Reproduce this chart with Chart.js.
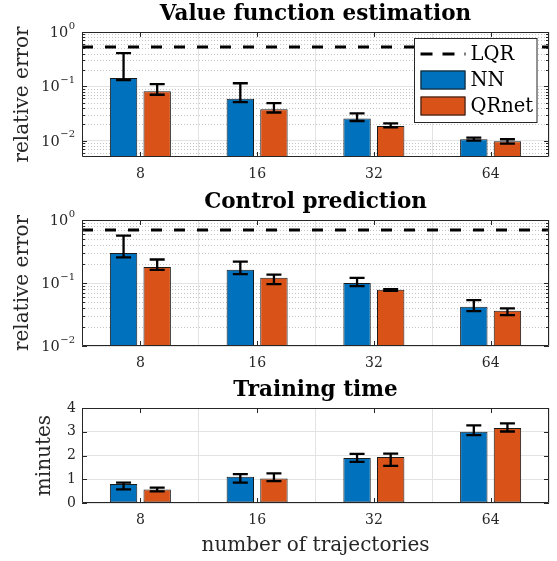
<!DOCTYPE html>
<html>
<head>
<meta charset="utf-8">
<script src="https://cdn.jsdelivr.net/npm/chart.js@4.4.0/dist/chart.umd.min.js"></script>
<style>
  html, body { margin: 0; padding: 0; background: #fff; }
  #wrap { position: relative; width: 557px; height: 561px; }
  canvas { position: absolute; left: 0; }
</style>
</head>
<body>
<div id="wrap">
  <canvas id="valueChart" width="557" height="185" style="top:0px"></canvas>
  <canvas id="controlChart" width="557" height="190" style="top:185px"></canvas>
  <canvas id="timeChart" width="557" height="186" style="top:375px"></canvas>
</div>
<script>
// number of trajectories
const categories = ['8', '16', '32', '64'];

// Value function estimation (relative error)
const nnValue   = [0.143, 0.059, 0.0257, 0.0106];
const nnValueLo = [0.130, 0.051, 0.0230, 0.0100];
const nnValueHi = [0.410, 0.114, 0.0317, 0.0114];
const qrValue   = [0.0815, 0.038, 0.0186, 0.0097];
const qrValueLo = [0.070, 0.033, 0.0176, 0.0088];
const qrValueHi = [0.110, 0.049, 0.0208, 0.0106];
const lqrValue  = 0.53;

// Control prediction (relative error)
const nnCtrl   = [0.300, 0.162, 0.100, 0.0420];
const nnCtrlLo = [0.256, 0.138, 0.089, 0.0358];
const nnCtrlHi = [0.565, 0.219, 0.121, 0.0535];
const qrCtrl   = [0.180, 0.121, 0.078, 0.0363];
const qrCtrlLo = [0.162, 0.096, 0.075, 0.0310];
const qrCtrlHi = [0.236, 0.136, 0.080, 0.0395];
const lqrCtrl  = 0.695;

// Training time (minutes)
const nnTime   = [0.80, 1.11, 1.89, 3.00];
const nnTimeLo = [0.57, 0.86, 1.73, 2.86];
const nnTimeHi = [0.86, 1.22, 2.07, 3.27];
const qrTime   = [0.57, 1.03, 1.94, 3.16];
const qrTimeLo = [0.49, 0.92, 1.56, 3.01];
const qrTimeHi = [0.65, 1.25, 2.08, 3.35];

const BLUE = '#0072BD';
const ORANGE = '#D95319';
const EDGE = '#1a1a1a';
const AXIS = '#262626';
const GRID = '#e3e3e3';
const FONT = "'DejaVu Serif', serif";

Chart.defaults.font.family = FONT;
Chart.defaults.color = AXIS;

function isPow10(v) {
  const e = Math.log10(v);
  return Math.abs(e - Math.round(e)) < 1e-6;
}
// 2..9 x 10^k inside the axis range (for the dotted minor grid)
function logMinors(min, max) {
  const out = [];
  for (let k = Math.floor(Math.log10(min)); k <= Math.ceil(Math.log10(max)); k++) {
    for (let m = 2; m <= 9; m++) {
      const v = m * Math.pow(10, k);
      if (v > min * 1.0001 && v < max * 0.9999) out.push(v);
    }
  }
  return out;
}
// bars sit at x = 1..4 on a linear axis running 0.5 .. 4.5
const toXY = vals => vals.map((v, i) => ({x: i + 1, y: v}));

function decorations(p) {
  return {
    id: 'matlabLook',
    beforeDatasetsDraw(chart) {
      if (!p.log) return;
      const {ctx, chartArea: a, scales: {y}} = chart;
      ctx.save();
      ctx.strokeStyle = '#c4c4c4';
      ctx.lineWidth = 1;
      ctx.setLineDash([1, 2]);
      ctx.beginPath();
      logMinors(y.min, y.max).forEach(v => {
        const py = Math.round(y.getPixelForValue(v)) + 0.5;
        ctx.moveTo(a.left, py);
        ctx.lineTo(a.right, py);
      });
      ctx.stroke();
      ctx.restore();
    },
    afterDatasetsDraw(chart) {
      const {ctx, chartArea: a, scales: {x, y}} = chart;
      // error bars
      ctx.save();
      ctx.strokeStyle = '#000';
      ctx.lineWidth = 2.3;
      chart.data.datasets.forEach((ds, di) => {
        if (!ds.errLo) return;
        chart.getDatasetMeta(di).data.forEach((bar, i) => {
          const lo = y.getPixelForValue(ds.errLo[i]);
          const hi = y.getPixelForValue(ds.errHi[i]);
          ctx.beginPath();
          ctx.moveTo(bar.x, lo); ctx.lineTo(bar.x, hi);
          ctx.moveTo(bar.x - 7.5, lo); ctx.lineTo(bar.x + 7.5, lo);
          ctx.moveTo(bar.x - 7.5, hi); ctx.lineTo(bar.x + 7.5, hi);
          ctx.stroke();
        });
      });
      ctx.restore();

      // box and inward ticks
      ctx.save();
      ctx.strokeStyle = AXIS;
      ctx.lineWidth = 1;
      ctx.beginPath();
      const yTick = (v, len) => {
        const py = Math.round(y.getPixelForValue(v)) + 0.5;
        ctx.moveTo(a.left, py); ctx.lineTo(a.left + len, py);
        ctx.moveTo(a.right, py); ctx.lineTo(a.right - len, py);
      };
      if (p.log) {
        y.ticks.filter(t => isPow10(t.value)).forEach(t => yTick(t.value, 5));
        logMinors(y.min, y.max).forEach(v => yTick(v, 3));
      } else {
        y.ticks.forEach(t => yTick(t.value, 5));
      }
      x.ticks.forEach(t => {
        const px = Math.round(x.getPixelForValue(t.value)) + 0.5;
        ctx.moveTo(px, a.bottom); ctx.lineTo(px, a.bottom - 5);
        ctx.moveTo(px, a.top); ctx.lineTo(px, a.top + 5);
      });
      ctx.rect(a.left + 0.5, a.top + 0.5, a.width - 1, a.height - 1);
      ctx.stroke();
      ctx.restore();
    },
    afterDraw(chart) {
      const {ctx, chartArea: a, scales: {y}} = chart;
      // log tick labels as 10 with a raised exponent
      if (p.log) {
        ctx.save();
        ctx.fillStyle = AXIS;
        ctx.textAlign = 'right';
        ctx.textBaseline = 'alphabetic';
        y.ticks.filter(t => isPow10(t.value)).forEach(t => {
          const py = y.getPixelForValue(t.value);
          const exp = String(Math.round(Math.log10(t.value))).replace('-', '\u2212');
          const xr = a.left - 7;
          ctx.font = '10px ' + FONT;
          const ew = ctx.measureText(exp).width;
          ctx.fillText(exp, xr, py - 3.5);
          ctx.font = '14.5px ' + FONT;
          ctx.fillText('10', xr - ew - 0.5, py + 5);
        });
        ctx.restore();
      }
      if (!p.legend) return;
      const bx = a.right - 134.5, by = a.top + 6.5, bw = 122.5, bh = 84;
      ctx.save();
      ctx.fillStyle = '#fff';
      ctx.fillRect(bx, by, bw, bh);
      ctx.strokeStyle = AXIS;
      ctx.lineWidth = 1;
      ctx.strokeRect(bx, by, bw, bh);
      const sx = bx + 6, sw = 45, tx = bx + 56;
      const rows = [by + 15.5, by + 41.5, by + 67.5];
      // LQR dashed
      ctx.strokeStyle = '#000';
      ctx.lineWidth = 3;
      ctx.setLineDash([12, 10]);
      ctx.beginPath();
      ctx.moveTo(sx, rows[0]); ctx.lineTo(sx + sw, rows[0]);
      ctx.stroke();
      ctx.setLineDash([]);
      // NN / QRnet patches
      [[BLUE, rows[1]], [ORANGE, rows[2]]].forEach(([c, ry]) => {
        ctx.fillStyle = c;
        ctx.fillRect(sx, ry - 9.5, sw, 19);
        ctx.strokeStyle = EDGE;
        ctx.lineWidth = 1;
        ctx.strokeRect(sx + 0.5, ry - 9, sw - 1, 18);
      });
      ctx.fillStyle = '#000';
      ctx.font = '19.5px ' + FONT;
      ctx.textBaseline = 'middle';
      ctx.textAlign = 'left';
      ctx.fillText('LQR', tx, rows[0] + 1);
      ctx.fillText('NN', tx, rows[1] + 1);
      ctx.fillText('QRnet', tx, rows[2] + 1);
      ctx.restore();
    }
  };
}

function makeChart(id, p) {
  const barOpts = {borderColor: EDGE, borderWidth: 1, borderSkipped: false,
                   categoryPercentage: 0.576, barPercentage: 0.815};
  const datasets = [
    Object.assign({label: 'NN', data: toXY(p.nn), errLo: p.nnLo, errHi: p.nnHi, backgroundColor: BLUE}, barOpts),
    Object.assign({label: 'QRnet', data: toXY(p.qr), errLo: p.qrLo, errHi: p.qrHi, backgroundColor: ORANGE}, barOpts)
  ];
  if (p.lqr !== undefined) {
    datasets.push({
      type: 'line', label: 'LQR',
      data: [{x: 0.5, y: p.lqr}, {x: categories.length + 0.5, y: p.lqr}],
      borderColor: '#000', borderWidth: 3, borderDash: [11, 12],
      pointRadius: 0, fill: false
    });
  }
  const scales = {
    x: {
      type: 'linear', min: 0.5, max: categories.length + 0.5, offset: false,
      afterBuildTicks: s => { s.ticks = categories.map((c, i) => ({value: i + 1})); },
      grid: {color: GRID, drawTicks: false},
      border: {display: false},
      ticks: {padding: 9, font: {size: 14}, maxRotation: 0, autoSkip: false,
              callback: v => categories[Math.round(v) - 1]},
      title: p.xTitle ? {display: true, text: p.xTitle, font: {size: 20}, padding: {top: 0, bottom: 3}} : {display: false},
      afterFit: s => { s.height = p.xHeight; }
    },
    y: {
      min: p.yMin, max: p.yMax,
      grid: {drawTicks: false, color: ctx => (!p.log || isPow10(ctx.tick.value)) ? GRID : 'rgba(0,0,0,0)'},
      border: {display: false},
      ticks: {padding: 6, font: {size: 14}, autoSkip: false},
      title: {display: true, text: p.yTitle, font: {size: 20}, padding: {top: p.yTitlePad, bottom: 0}},
      afterFit: s => { s.width = 82; }
    }
  };
  if (p.log) {
    scales.y.type = 'logarithmic';
    scales.y.ticks.callback = () => '';   // drawn with superscripts in afterDraw
  } else {
    scales.y.type = 'linear';
    scales.y.ticks.stepSize = 1;
  }
  return new Chart(document.getElementById(id), {
    type: 'bar',
    data: {datasets: datasets},
    options: {
      responsive: false,
      animation: false,
      devicePixelRatio: 1,
      layout: {padding: {left: 0, right: 8, top: 0, bottom: 0}},
      plugins: {
        legend: {display: false},
        tooltip: {enabled: false},
        title: {
          display: true, text: p.title, fullSize: false, color: '#000',
          font: {size: 21.5, weight: 'bold'},
          padding: {top: p.titlePad[0], bottom: p.titlePad[1]}
        }
      },
      scales: scales
    },
    plugins: [decorations(p)]
  });
}

makeChart('valueChart', {
  title: 'Value function estimation', titlePad: [1.5, 4.7],
  nn: nnValue, nnLo: nnValueLo, nnHi: nnValueHi,
  qr: qrValue, qrLo: qrValueLo, qrHi: qrValueHi,
  lqr: lqrValue, log: true, yMin: 0.005, yMax: 1,
  yTitle: 'relative error', yTitlePad: 11, xHeight: 28, legend: true
});

makeChart('controlChart', {
  title: 'Control prediction', titlePad: [4.5, 4.7],
  nn: nnCtrl, nnLo: nnCtrlLo, nnHi: nnCtrlHi,
  qr: qrCtrl, qrLo: qrCtrlLo, qrHi: qrCtrlHi,
  lqr: lqrCtrl, log: true, yMin: 0.01, yMax: 1,
  yTitle: 'relative error', yTitlePad: 11, xHeight: 29
});

makeChart('timeChart', {
  title: 'Training time', titlePad: [2.2, 5.0],
  nn: nnTime, nnLo: nnTimeLo, nnHi: nnTimeHi,
  qr: qrTime, qrLo: qrTimeLo, qrHi: qrTimeHi,
  log: false, yMin: 0, yMax: 4,
  yTitle: 'minutes', yTitlePad: 33, xHeight: 58,
  xTitle: 'number of trajectories'
});
</script>
</body>
</html>
